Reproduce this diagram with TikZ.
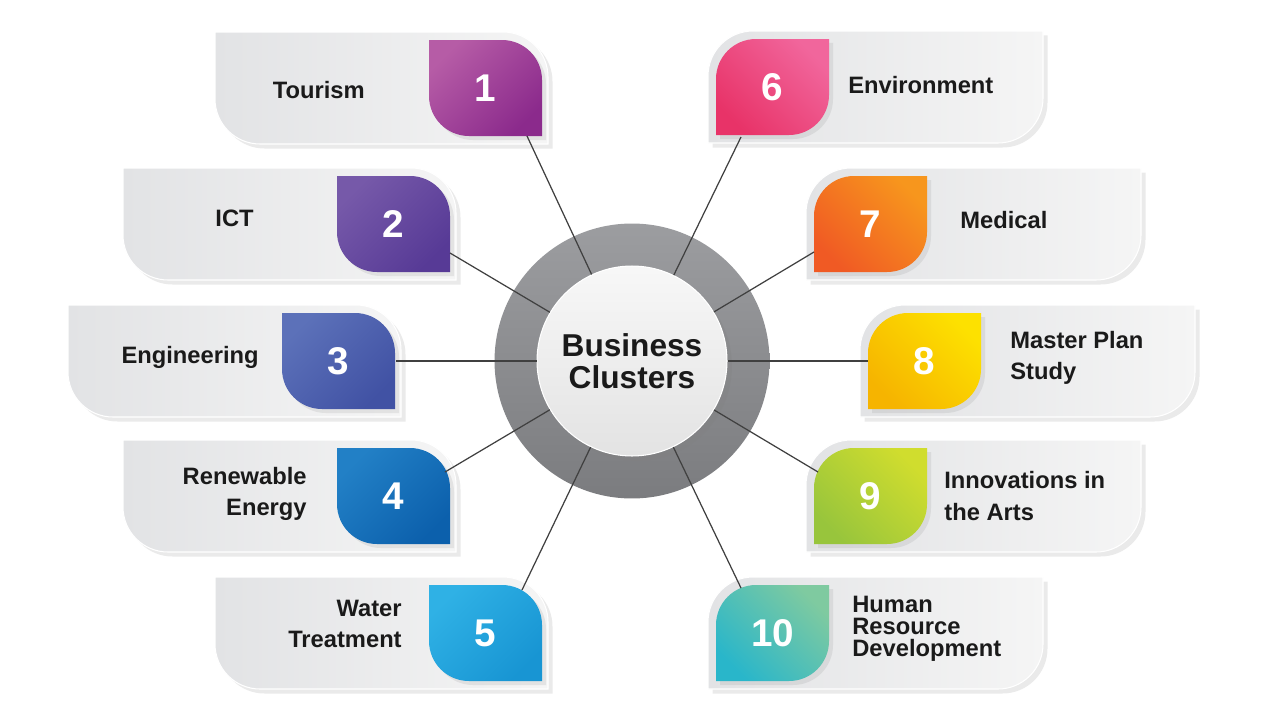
\documentclass[tikz,border=0pt]{standalone}
\usepackage{fontspec}
\setmainfont{Liberation Sans}
\usetikzlibrary{shadows}

\definecolor{col1a}{HTML}{B65CA6} \definecolor{col1b}{HTML}{8B2A8C}
\definecolor{col2a}{HTML}{7659A9} \definecolor{col2b}{HTML}{573A96}
\definecolor{col3a}{HTML}{5C71B9} \definecolor{col3b}{HTML}{4152A4}
\definecolor{col4a}{HTML}{2280C6} \definecolor{col4b}{HTML}{0C60AC}
\definecolor{col5a}{HTML}{2FB1E5} \definecolor{col5b}{HTML}{1895D3}
\definecolor{col6a}{HTML}{F1669C} \definecolor{col6b}{HTML}{E83368}
\definecolor{col7a}{HTML}{F7961D} \definecolor{col7b}{HTML}{F05A24}
\definecolor{col8a}{HTML}{FDE100} \definecolor{col8b}{HTML}{F6B400}
\definecolor{col9a}{HTML}{D0DD2E} \definecolor{col9b}{HTML}{98C53C}
\definecolor{col10a}{HTML}{7FCAA0} \definecolor{col10b}{HTML}{29B6CA}
\definecolor{cardL}{HTML}{E2E3E5}
\definecolor{cardR}{HTML}{F5F5F5}
\definecolor{ringtop}{HTML}{9C9DA0}
\definecolor{ringbot}{HTML}{7B7C7F}
\definecolor{inktext}{HTML}{1A1A1A}

% leaf shapes: (left,top) (right,bottom) radius
\newcommand\leafL[5]{(#1,#2) -- (#3-#5,#2) arc[start angle=-90,end angle=0,radius=#5] -- (#3,#4) -- (#1+#5,#4) arc[start angle=90,end angle=180,radius=#5] -- cycle}
\newcommand\leafR[5]{(#1,#2+#5) arc[start angle=180,end angle=270,radius=#5] -- (#3,#2) -- (#3,#4-#5) arc[start angle=0,end angle=90,radius=#5] -- (#1,#4) -- cycle}

\begin{document}
\begin{tikzpicture}[x=0.02cm, y=-0.02cm,
    card/.style={left color=cardL, right color=cardR, draw=white, line width=0.6pt,
                 drop shadow={shadow xshift=0.9mm, shadow yshift=-0.9mm, opacity=0.16}},
    tileshadow/.style={drop shadow={shadow xshift=0.8mm, shadow yshift=-0.8mm, opacity=0.15}},
    tilenum/.style={text=white, font=\fontsize{22}{22}\selectfont\bfseries},
    tagtext/.style={text=inktext, inner sep=0pt, font=\fontsize{13.5}{18}\selectfont\bfseries},
    ringdisc/.style={circle, minimum size=5.5cm, inner sep=0pt, top color=ringtop, bottom color=ringbot},
    hubdisc/.style={circle, minimum size=3.8cm, inner sep=0pt, align=center, text=inktext,
                    top color=gray!6, bottom color=gray!22, draw=white, line width=0.6pt,
                    font=\fontsize{18}{18.5}\selectfont\bfseries,
                    drop shadow={shadow xshift=1mm, shadow yshift=-1mm, opacity=0.25}},
    spoke/.style={draw=black!75, line width=0.7pt}
]
\fill[white] (0,0) rectangle (1280,720);
\useasboundingbox (0,0) rectangle (1280,720);

% left side
\foreach \n/\xa/\ya/\px/\py/\tx/\ty/\txt in {
    1/215/32/527/136/365/90/Tourism,
    2/123/168/450/253/254/218/ICT,
    3/68/305/396/361/259/357/Engineering,
    4/123/440/445/472/307/494/{Renewable\\Energy},
    5/215/577/522/590/402/624/{Water\\Treatment}}
{
  \path[card] \leafL{\xa}{\ya}{\xa+333}{\ya+112}{45};
  \path[left color=col\n a, right color=col\n b, shading angle=45, tileshadow]
    \leafL{\xa+214}{\ya+8}{\xa+327}{\ya+104}{40};
  \node[tilenum] (t\n) at (\xa+270.5,\ya+56) {\n};
  \node[tagtext, anchor=east, align=right] (l\n) at (\tx,\ty) {\txt};
  \coordinate (p\n) at (\px,\py);
}

% right side
\foreach \n/\xa/\ya/\px/\py/\tx/\ty/\txt in {
    6/708/31/741/137/848/85/Environment,
    7/806/168/814/252/960/220/Medical,
    8/860/305/868/361/1010/358/{Master Plan\\Study},
    9/806/440/818/472/944/496/{Innovations in\\the Arts},
    10/708/577/741/588/852/629/{Human\\[-5.5pt]Resource\\[-5.5pt]Development}}
{
  \path[card] \leafR{\xa}{\ya}{\xa+335}{\ya+112}{45};
  \path[left color=col\n b, right color=col\n a, shading angle=135, tileshadow]
    \leafR{\xa+8}{\ya+8}{\xa+121}{\ya+104}{40};
  \node[tilenum] (t\n) at (\xa+64.5,\ya+56) {\n};
  \node[tagtext, anchor=west, align=left] (l\n) at (\tx,\ty) {\txt};
  \coordinate (p\n) at (\px,\py);
}

% centre
\node[ringdisc] (ring) at (632,361) {};
\node[hubdisc] (hub) at (632,361) {Business\\Clusters};

\foreach \n in {1,...,10}
  \draw[spoke] (hub) -- (p\n);
\end{tikzpicture}
\end{document}
